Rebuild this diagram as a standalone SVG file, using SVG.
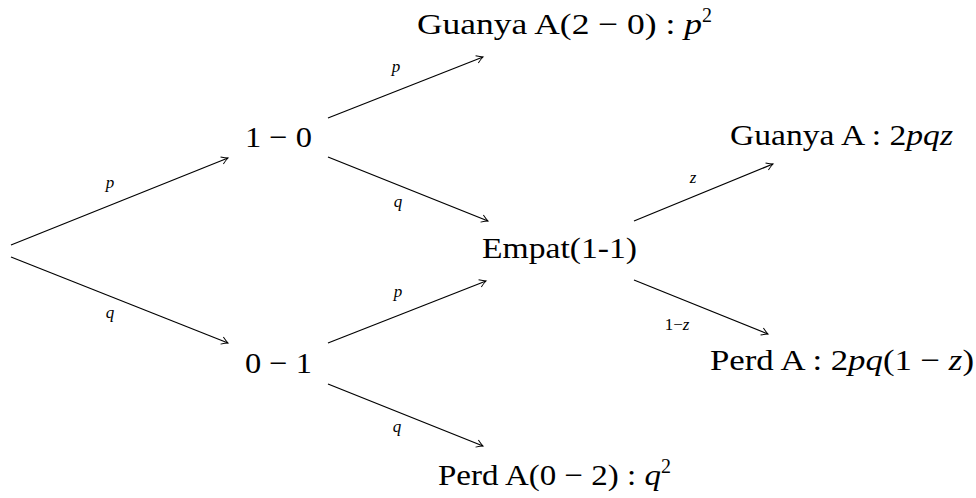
<svg xmlns="http://www.w3.org/2000/svg" width="976" height="498" viewBox="0 0 976 498">
<style>
.n{font-family:"Liberation Serif","DejaVu Serif",serif;font-size:30px;fill:#000}
.l{font-family:"Liberation Serif","DejaVu Serif",serif;font-size:17px;font-style:italic;fill:#000}
.i{font-style:italic}
.u{font-style:normal}
.e{stroke:#000;stroke-width:1.2;fill:none;marker-end:url(#ah)}
</style>
<defs>
<marker id="ah" markerUnits="userSpaceOnUse" markerWidth="14" markerHeight="12" viewBox="-8 -6 10 12" refX="0" refY="0" orient="auto">
<path d="M-6.5,-3.8 Q-2.5,-1 0,0 Q-2.5,1 -6.5,3.8" fill="none" stroke="#000" stroke-width="1"/>
</marker>
</defs>
<rect width="976" height="498" fill="#fff"/>
<g id="connectors">
<line class="e" x1="11" y1="245" x2="228" y2="158"/>
<line class="e" x1="11" y1="257" x2="228" y2="343"/>
<line class="e" x1="328" y1="118" x2="483" y2="57"/>
<line class="e" x1="328" y1="157" x2="488" y2="221"/>
<line class="e" x1="328" y1="343" x2="486" y2="281"/>
<line class="e" x1="328" y1="384" x2="483" y2="446"/>
<line class="e" x1="634" y1="221" x2="773" y2="164"/>
<line class="e" x1="634" y1="280" x2="768" y2="334"/>
<text class="l" x="110" y="188" text-anchor="middle">p</text>
<text class="l" x="110" y="318" text-anchor="middle">q</text>
<text class="l" x="396" y="72" text-anchor="middle">p</text>
<text class="l" x="398" y="207" text-anchor="middle">q</text>
<text class="l" x="398" y="297" text-anchor="middle">p</text>
<text class="l" x="397" y="432" text-anchor="middle">q</text>
<text class="l" x="693" y="183" text-anchor="middle">z</text>
<text class="l" x="677" y="330" text-anchor="middle"><tspan class="u">1−</tspan>z</text>
</g>
<g id="n10"><text class="n" x="245" y="147" textLength="67" lengthAdjust="spacingAndGlyphs">1 − 0</text></g>
<g id="n01"><text class="n" x="245" y="373" textLength="67" lengthAdjust="spacingAndGlyphs">0 − 1</text></g>
<g id="n20"><text class="n" x="417" y="34"><tspan textLength="285" lengthAdjust="spacingAndGlyphs">Guanya A(2 − 0) : <tspan class="i">p</tspan></tspan><tspan font-size="20" dy="-12">2</tspan></text></g>
<g id="n02"><text class="n" x="438" y="485"><tspan textLength="223" lengthAdjust="spacingAndGlyphs">Perd A(0 − 2) : <tspan class="i">q</tspan></tspan><tspan font-size="20" dy="-12">2</tspan></text></g>
<g id="n11"><text class="n" x="482" y="258" textLength="155" lengthAdjust="spacingAndGlyphs">Empat(1-1)</text></g>
<g id="nwin"><text class="n" x="730" y="145" textLength="223" lengthAdjust="spacingAndGlyphs">Guanya A : 2<tspan class="i">pqz</tspan></text></g>
<g id="nlose"><text class="n" x="710" y="370" textLength="264" lengthAdjust="spacingAndGlyphs">Perd A : 2<tspan class="i">pq</tspan>(1 − <tspan class="i">z</tspan>)</text></g>
</svg>
